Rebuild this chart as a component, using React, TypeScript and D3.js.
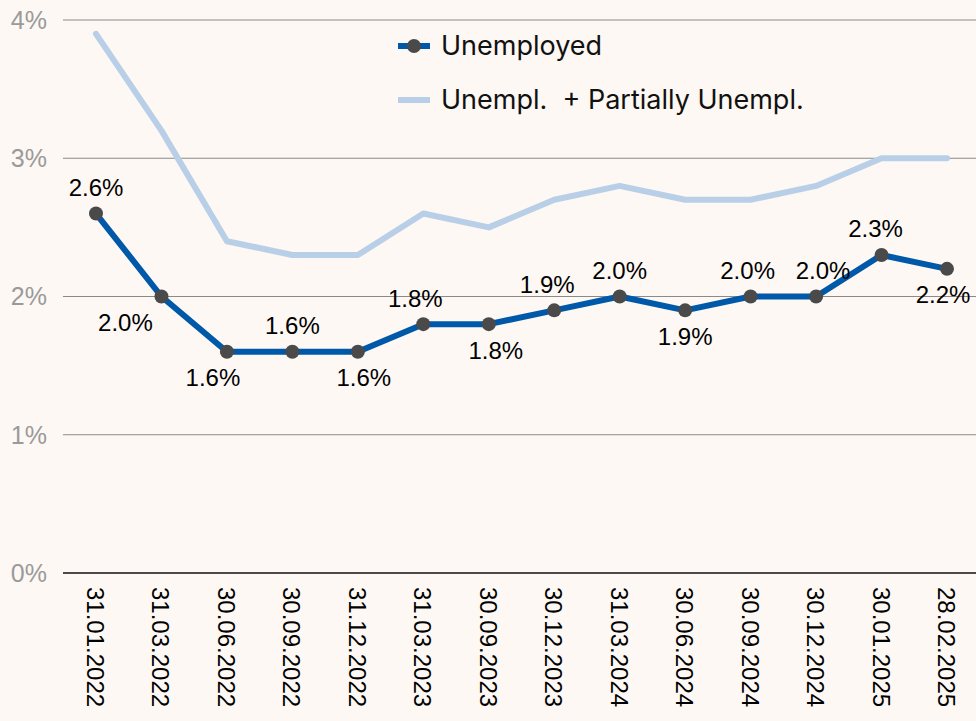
import React, { useEffect } from 'react';
import * as d3 from 'd3';

const dates = ['31.01.2022', '31.03.2022', '30.06.2022', '30.09.2022', '31.12.2022', '31.03.2023', '30.09.2023',
  '30.12.2023', '31.03.2024', '30.06.2024', '30.09.2024', '30.12.2024', '30.01.2025', '28.02.2025'];
const unemployed = [2.6, 2.0, 1.6, 1.6, 1.6, 1.8, 1.8, 1.9, 2.0, 1.9, 2.0, 2.0, 2.3, 2.2];
const partial = [3.9, 3.2, 2.4, 2.3, 2.3, 2.6, 2.5, 2.7, 2.8, 2.7, 2.7, 2.8, 3.0, 3.0];
const yTicks = [0, 1, 2, 3, 4];

// where each data label goes (above / below the point) and a small horizontal nudge
const labelSide = [-1, 1, 1, -1, 1, -1, 1, -1, -1, 1, -1, -1, -1, 1];
const labelDx = [0, -36, -14, 0, 6, -8, 7, -7, 0, 0, -3, 7, -6, -4];

const W = 976, H = 721;
const BG = '#fdf8f4';
const DARK = '#0058a8';
const LIGHT = '#b8cfe7';
const ARIAL = "'Liberation Sans', Arial, sans-serif";

const App = () => {
  useEffect(() => {
    document.body.style.margin = '0';
    document.body.style.background = BG;
  }, []);

  const x = d3.scalePoint<string>().domain(dates).range([96, 947]);
  const y = d3.scaleLinear().domain([0, 4]).range([573, 20]);
  const line = d3.line<number>().x((_, i) => x(dates[i]) as number).y(d => y(d));

  return (
    <svg width={W} height={H} style={{ display: 'block', background: BG }}>
      {yTicks.map(t => (
        <g key={t}>
          <line x1={63} x2={W} y1={y(t)} y2={y(t)} stroke={t === 0 ? '#111' : '#8a8a8a'} strokeWidth={t === 0 ? 1.5 : 1} />
          <text x={47} y={y(t)} dy="0.35em" textAnchor="end" fontFamily={ARIAL}
            fontSize={25} fill="#9a9a9a">{t}%</text>
        </g>
      ))}

      {dates.map(d => (
        <text key={d} transform={`translate(${(x(d) as number) - 9},${587}) rotate(90)`} textAnchor="start"
          fontFamily={ARIAL} fontSize={24} fill="#000">{d}</text>
      ))}

      <path d={line(partial) || ''} fill="none" stroke={LIGHT} strokeWidth={6} strokeLinejoin="round" strokeLinecap="round" />
      <path d={line(unemployed) || ''} fill="none" stroke={DARK} strokeWidth={6} strokeLinejoin="round" />
      {unemployed.map((v, i) => (
        <circle key={i} cx={x(dates[i])} cy={y(v)} r={7} fill="#4a4a4a" />
      ))}
      {unemployed.map((v, i) => (
        <text key={'l' + i} x={(x(dates[i]) as number) + labelDx[i]} y={y(v) + labelSide[i] * 26} dy="0.35em"
          textAnchor="middle" fontFamily={ARIAL} fontSize={24} fill="#000">
          {v.toFixed(1)}%
        </text>
      ))}

      <g fontFamily="Inter, 'Noto Sans', sans-serif" fontSize={27} fill="#111">
        <line x1={398} x2={430} y1={46} y2={46} stroke={DARK} strokeWidth={6} />
        <circle cx={414} cy={46} r={7} fill="#4a4a4a" />
        <text x={441} y={46} dy="0.35em">Unemployed</text>
        <line x1={398} x2={430} y1={100} y2={100} stroke={LIGHT} strokeWidth={6} />
        <text x={441} y={100} dy="0.35em" xmlSpace="preserve" style={{ whiteSpace: 'pre' }}>{'Unempl.  + Partially Unempl.'}</text>
      </g>
    </svg>
  );
};

export default App;
